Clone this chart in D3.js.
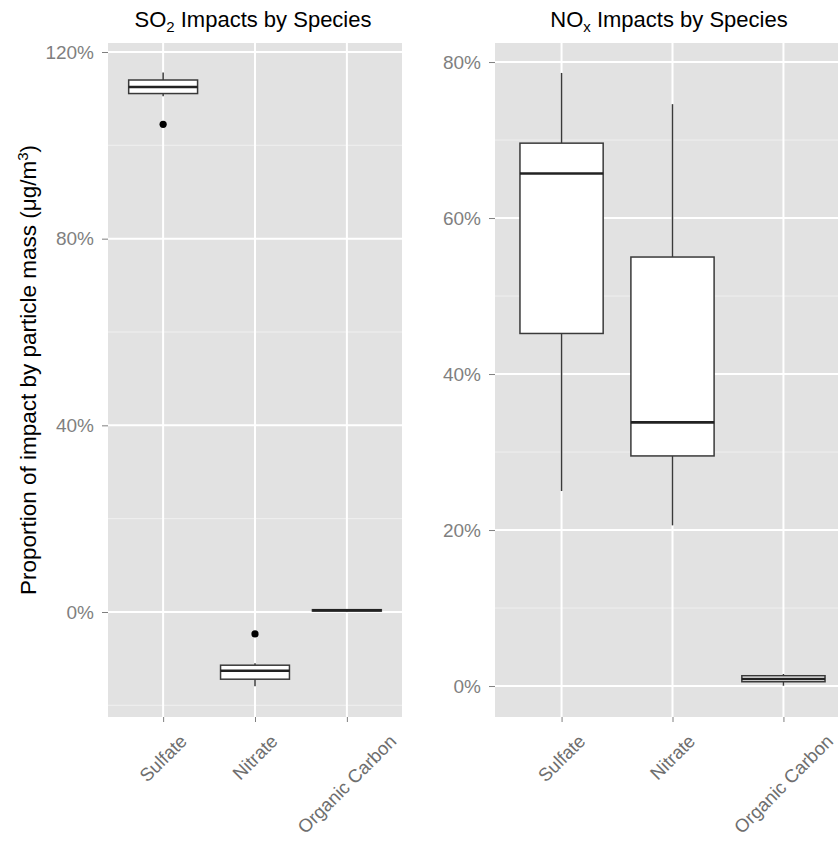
<!DOCTYPE html>
<html>
<head>
<meta charset="utf-8">
<script src="https://cdn.jsdelivr.net/npm/d3@7"></script>
<style>
  body { margin: 0; background: #fff; }
  svg { display: block; font-family: "Liberation Sans", Arial, sans-serif; }
</style>
</head>
<body>
<svg id="chart" width="838" height="843"></svg>
<script>
'use strict'

// categories shared by both panels
const species = ['Sulfate', 'Nitrate', 'Organic Carbon']

// SO2 panel: five-number summaries per species (proportions)
const so2Low    = [1.105, -0.159, 0.001]
const so2Q1     = [1.111, -0.144, 0.002]
const so2Median = [1.125, -0.126, 0.0036]
const so2Q3     = [1.140, -0.114, 0.005]
const so2High   = [1.156, -0.110, 0.006]
const so2OutlierSpecies = ['Sulfate', 'Nitrate']
const so2OutlierValues  = [1.045, -0.047]
const so2Ticks = [0, 0.4, 0.8, 1.2]
const so2Minor = [-0.2, 0.2, 0.6, 1.0]

// NOx panel
const noxLow    = [0.250, 0.206, 0.0004]
const noxQ1     = [0.452, 0.295, 0.0055]
const noxMedian = [0.657, 0.338, 0.009]
const noxQ3     = [0.696, 0.550, 0.0132]
const noxHigh   = [0.786, 0.746, 0.0154]
const noxOutlierSpecies = []
const noxOutlierValues  = []
const noxTicks = [0, 0.2, 0.4, 0.6, 0.8]
const noxMinor = [0.1, 0.3, 0.5, 0.7]

const svg = d3.select('#chart')
const panelTop = 43, panelBottom = 717
const fmt = d3.format('.0%')

function drawPanel(opts) {
  const x = d3.scalePoint().domain(species).range([opts.left, opts.right]).padding(0.6)
  const y = d3.scaleLinear().domain(opts.yDomain).range([panelBottom, panelTop])
  const step = x.step()
  const boxW = step * 0.75

  const g = svg.append('g')

  // background
  g.append('rect')
    .attr('x', opts.left).attr('y', panelTop)
    .attr('width', opts.right - opts.left).attr('height', panelBottom - panelTop)
    .attr('fill', '#e2e2e2')

  // minor + major grid
  g.selectAll('.minor').data(opts.minor).enter().append('line')
    .attr('x1', opts.left).attr('x2', opts.right)
    .attr('y1', d => y(d)).attr('y2', d => y(d))
    .attr('stroke', '#f0f0f0').attr('stroke-width', 1)
  g.selectAll('.major').data(opts.ticks).enter().append('line')
    .attr('x1', opts.left).attr('x2', opts.right)
    .attr('y1', d => y(d)).attr('y2', d => y(d))
    .attr('stroke', '#fff').attr('stroke-width', 2)
  g.selectAll('.vmajor').data(species).enter().append('line')
    .attr('x1', d => x(d)).attr('x2', d => x(d))
    .attr('y1', panelTop).attr('y2', panelBottom)
    .attr('stroke', '#fff').attr('stroke-width', 2)

  // box plots
  const rows = species.map((s, i) => ({
    s, low: opts.low[i], q1: opts.q1[i], med: opts.median[i], q3: opts.q3[i], high: opts.high[i]
  }))
  const box = g.selectAll('.box').data(rows).enter().append('g')
  box.append('line') // upper whisker
    .attr('x1', d => x(d.s)).attr('x2', d => x(d.s))
    .attr('y1', d => y(d.high)).attr('y2', d => y(d.q3))
    .attr('stroke', '#3a3a3a').attr('stroke-width', 1.5)
  box.append('line') // lower whisker
    .attr('x1', d => x(d.s)).attr('x2', d => x(d.s))
    .attr('y1', d => y(d.q1)).attr('y2', d => y(d.low))
    .attr('stroke', '#3a3a3a').attr('stroke-width', 1.5)
  box.append('rect')
    .attr('x', d => x(d.s) - boxW / 2).attr('width', boxW)
    .attr('y', d => y(d.q3)).attr('height', d => y(d.q1) - y(d.q3))
    .attr('fill', '#fff').attr('stroke', '#3a3a3a').attr('stroke-width', 1.5)
  box.append('line') // median
    .attr('x1', d => x(d.s) - boxW / 2).attr('x2', d => x(d.s) + boxW / 2)
    .attr('y1', d => y(d.med)).attr('y2', d => y(d.med))
    .attr('stroke', '#222').attr('stroke-width', 2.6)

  // outliers
  g.selectAll('.out').data(opts.outSpecies).enter().append('circle')
    .attr('cx', d => x(d)).attr('cy', (d, i) => y(opts.outValues[i]))
    .attr('r', 3.6).attr('fill', '#000')

  // y axis
  const yAxis = g.append('g')
    .attr('transform', 'translate(' + opts.left + ',0)')
    .call(d3.axisLeft(y).tickValues(opts.ticks).tickFormat(fmt).tickSize(6).tickPadding(8))
  yAxis.select('.domain').remove()
  yAxis.selectAll('line').attr('stroke', '#7f7f7f')
  yAxis.selectAll('text').attr('fill', '#7f7f7f').style('font-size', '19px')
    .style('font-family', '"Liberation Sans", Arial, sans-serif')

  // x axis ticks
  const xAxis = g.append('g')
    .attr('transform', 'translate(0,' + panelBottom + ')')
    .call(d3.axisBottom(x).tickSize(5).tickFormat(''))
  xAxis.select('.domain').remove()
  xAxis.selectAll('line').attr('stroke', '#7f7f7f')

  // rotated category labels, centred under the tick
  const labels = g.selectAll('.xlab').data(species).enter().append('text')
    .text(d => d)
    .attr('text-anchor', 'middle')
    .attr('dominant-baseline', 'central')
    .attr('fill', '#6e6e6e')
    .style('font-size', '18.5px')
  labels.each(function (d) {
    const L = this.getComputedTextLength()
    const cx = x(d)
    const cy = 733 + (L + 13.5) * Math.SQRT1_2 / 2
    d3.select(this).attr('x', cx).attr('y', cy)
      .attr('transform', 'rotate(-45,' + cx + ',' + cy + ')')
  })

  // title
  const t = svg.append('text')
    .attr('x', opts.titleX).attr('y', 27)
    .attr('text-anchor', 'middle')
    .style('font-size', '22px').attr('fill', '#000')
  t.append('tspan').text(opts.title[0])
  t.append('tspan').text(opts.title[1]).attr('dy', 5).style('font-size', '15px')
  t.append('tspan').text(opts.title[2]).attr('dy', -5)
}

drawPanel({
  left: 108, right: 402, yDomain: [-0.225, 1.2193],
  low: so2Low, q1: so2Q1, median: so2Median, q3: so2Q3, high: so2High,
  outSpecies: so2OutlierSpecies, outValues: so2OutlierValues,
  ticks: so2Ticks, minor: so2Minor,
  title: ['SO', '2', ' Impacts by Species'], titleX: 253
})

drawPanel({
  left: 495, right: 850, yDomain: [-0.0397, 0.8244],
  low: noxLow, q1: noxQ1, median: noxMedian, q3: noxQ3, high: noxHigh,
  outSpecies: noxOutlierSpecies, outValues: noxOutlierValues,
  ticks: noxTicks, minor: noxMinor,
  title: ['NO', 'x', ' Impacts by Species'], titleX: 669
})

// shared y axis title
const yTitle = svg.append('text')
  .attr('transform', 'translate(36,370) rotate(-90)')
  .attr('text-anchor', 'middle')
  .style('font-size', '22.5px').attr('fill', '#000')
yTitle.append('tspan').text('Proportion of impact by particle mass (μg/m')
yTitle.append('tspan').text('3').attr('dy', -8).style('font-size', '15px')
yTitle.append('tspan').text(')').attr('dy', 8)
</script>
</body>
</html>
